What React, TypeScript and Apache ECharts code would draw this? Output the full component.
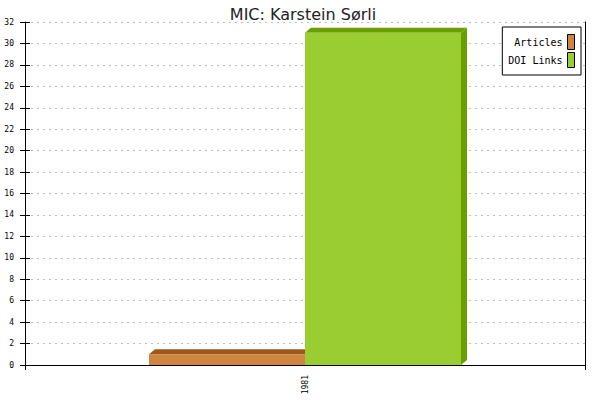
import { useEffect, useRef } from "react";
import * as echarts from "echarts";

const years = ["1981"];
const articles = [1];
const doiLinks = [31];
const yTicks = [0, 32, 2]; // min, max, interval

const seriesNames = ["Articles", "DOI Links"];
const frontColors = ["#cd853f", "#9acd32"];
const sideColors = ["#9c5818", "#6b9e00"];

const DEPTH_X = 6;
const DEPTH_Y = 5;
const BAR_RATIO = 156 / 560;

function makeRender(slot: number, front: string, side: string) {
  return (_params: any, api: any) => {
    const idx = api.value(0);
    const val = api.value(1);
    const base = api.coord([idx, 0]);
    const top = api.coord([idx, val]);
    const band = api.size([1, 0])[0];
    const w = band * BAR_RATIO;
    const x0 = base[0] - w + slot * w;
    const x1 = x0 + w;
    const yT = top[1];
    const yB = base[1];
    return {
      type: "group",
      children: [
        {
          type: "polygon",
          shape: {
            points: [
              [x0, yT],
              [x0 + DEPTH_X, yT - DEPTH_Y],
              [x1 + DEPTH_X, yT - DEPTH_Y],
              [x1, yT],
            ],
          },
          style: { fill: side },
        },
        {
          type: "polygon",
          shape: {
            points: [
              [x1, yT],
              [x1 + DEPTH_X, yT - DEPTH_Y],
              [x1 + DEPTH_X, yB - DEPTH_Y],
              [x1, yB],
            ],
          },
          style: { fill: side },
        },
        {
          type: "rect",
          shape: { x: x0, y: yT, width: w, height: yB - yT },
          style: { fill: front },
        },
      ],
    };
  };
}

export default function App() {
  const ref = useRef<HTMLDivElement>(null);

  useEffect(() => {
    if (!ref.current) return;
    const chart = echarts.init(ref.current, undefined, { renderer: "svg" });
    const mono = "DejaVu Sans Mono";

    const values = [articles, doiLinks];

    chart.setOption({
      animation: false,
      backgroundColor: "#fff",
      title: {
        text: "MIC: Karstein Sørli",
        left: 298,
        textAlign: "center",
        top: 1,
        textStyle: {
          fontFamily: "DejaVu Sans",
          fontSize: 16,
          fontWeight: "normal",
          color: "#222",
        },
      },
      legend: {
        orient: "vertical",
        right: 19,
        top: 27,
        align: "right",
        icon: "rect",
        itemWidth: 7,
        itemHeight: 15,
        itemGap: 2,
        padding: [7, 6, 7, 6],
        borderColor: "#000",
        borderWidth: 1,
        backgroundColor: "#fff",
        textStyle: { fontFamily: mono, fontSize: 10, color: "#000" },
        data: seriesNames.map((n, i) => ({
          name: n,
          itemStyle: { color: frontColors[i], borderColor: "#000", borderWidth: 1 },
        })),
      },
      grid: { left: 25, right: 15, top: 22, bottom: 35 },
      xAxis: {
        type: "category",
        data: years,
        boundaryGap: true,
        axisLine: { lineStyle: { color: "#000", width: 1 } },
        axisTick: { show: true, length: 5, lineStyle: { color: "#000" } },
        axisLabel: {
          rotate: 90,
          fontFamily: mono,
          fontSize: 8,
          color: "#000",
          margin: 10,
        },
        splitLine: { show: false },
      },
      yAxis: [
        {
          type: "value",
          min: yTicks[0],
          max: yTicks[1],
          interval: yTicks[2],
          axisLine: { show: true, lineStyle: { color: "#000" } },
          axisTick: { show: true, length: 5, lineStyle: { color: "#000" } },
          axisLabel: { fontFamily: mono, fontSize: 8, color: "#000", margin: 11 },
          splitLine: {
            show: true,
            lineStyle: { color: "#c0c0c0", type: [2, 4], width: 1 },
          },
        },
        {
          type: "value",
          position: "left",
          min: yTicks[0],
          max: yTicks[1],
          interval: yTicks[2],
          axisLine: { show: false },
          axisTick: { show: true, inside: true, length: 5, lineStyle: { color: "#000" } },
          axisLabel: { show: false },
          splitLine: { show: false },
        },
        {
          type: "value",
          position: "right",
          min: yTicks[0],
          max: yTicks[1],
          interval: yTicks[2],
          axisLine: { show: true, lineStyle: { color: "#000" } },
          axisTick: { show: false },
          axisLabel: { show: false },
          splitLine: { show: false },
        },
      ],
      series: seriesNames.map((n, i) => ({
        name: n,
        type: "custom",
        itemStyle: { color: frontColors[i] },
        renderItem: makeRender(i, frontColors[i], sideColors[i]),
        encode: { x: 0, y: 1 },
        data: values[i].map((v, k) => [k, v]),
        z: 3,
      })),
    });

    return () => chart.dispose();
  }, []);

  return (
    <div
      ref={ref}
      style={{ position: "absolute", left: 0, top: 0, width: 600, height: 400 }}
    />
  );
}
